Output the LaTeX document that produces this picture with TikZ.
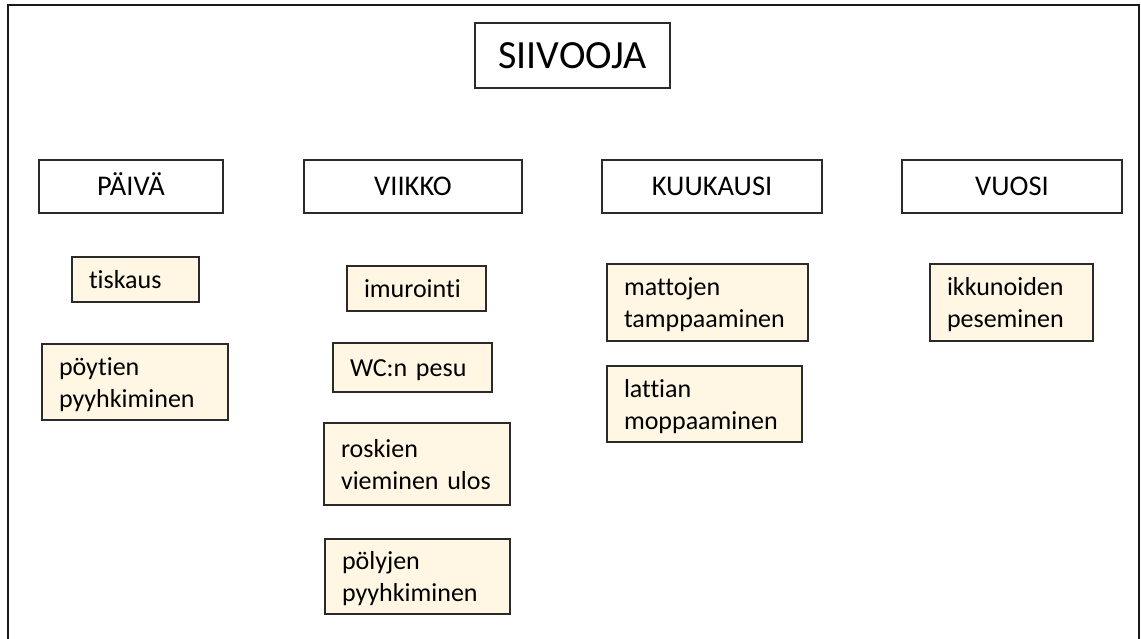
\documentclass[tikz,border=0pt]{standalone}
\usepackage{fontspec}
\setmainfont{Carlito}[Ligatures=NoCommon]
\definecolor{boxline}{HTML}{2A2A2A}
\definecolor{framecol}{HTML}{1A1A1A}
\definecolor{cream}{HTML}{FFF6E3}
\begin{document}
\begin{tikzpicture}[x=1pt,y=-1pt,
  title/.style={draw=boxline,line width=1.6pt,fill=white,inner sep=0pt,
    minimum width=195pt,minimum height=65pt,
    font=\fontsize{40}{48}\selectfont,text height=25.8pt,text depth=0pt},
  period/.style={draw=boxline,line width=1.6pt,fill=white,inner sep=0pt,
    minimum height=53pt,
    font=\fontsize{28.5}{34}\selectfont,text height=18.4pt,text depth=0pt},
  task/.style={draw=boxline,line width=1.6pt,fill=cream,
    inner xsep=17pt,inner ysep=0pt,align=left,
    font=\fontsize{26}{32}\selectfont,text height=18pt,text depth=0pt},
  twoline/.style={text depth=32pt}]
\useasboundingbox (0,0) rectangle (1141,639);
% open outer frame
\draw[framecol,line width=2pt] (8,642) -- (8,5) -- (1139,5) -- (1139,642);
% title
\node[title] (siivooja) at (572.5,55.5) {SIIVOOJA};
% period headers
\node[period,minimum width=184pt] (paiva)    at (131,186.5)  {PÄIVÄ};
\node[period,minimum width=218pt] (viikko)   at (413,186.5)  {VIIKKO};
\node[period,minimum width=220pt] (kuukausi) at (712,186.5)  {KUUKAUSI};
\node[period,minimum width=220pt] (vuosi)    at (1012,186.5) {VUOSI};
% daily tasks
\node[task,text width=93pt,minimum height=45pt]  (tiskaus) at (135.5,279.5) {tiskaus};
\node[task,twoline,text width=152pt,minimum height=76pt] (poytien) at (135,382) {pöytien\\pyyhkiminen};
% weekly tasks
\node[task,text width=105pt,minimum height=45pt] (imurointi) at (416.5,288.5) {imurointi};
\node[task,text width=125pt,minimum height=49pt] (wc)        at (412.5,367.5) {WC:n pesu};
\node[task,twoline,text width=152pt,minimum height=82pt] (roskien)   at (417,464) {roskien\\vieminen ulos};
\node[task,twoline,text width=151pt,minimum height=75pt] (polyjen)   at (417.5,576.5) {pölyjen\\pyyhkiminen};
% monthly tasks
\node[task,twoline,text width=167pt,minimum height=77pt] (mattojen) at (707.5,302.5) {mattojen\\tamppaaminen};
\node[task,twoline,text width=161pt,minimum height=76pt] (lattian)  at (704.5,404) {lattian\\moppaaminen};
% yearly task
\node[task,twoline,text width=129pt,minimum height=77pt] (ikkunat) at (1011.5,302.5) {ikkunoiden\\peseminen};
\end{tikzpicture}
\end{document}
